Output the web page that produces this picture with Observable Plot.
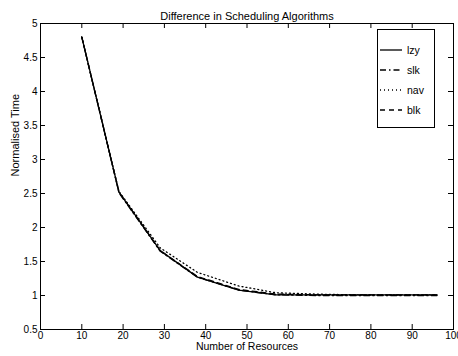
<!DOCTYPE html>
<html>
<head>
<meta charset="utf-8">
<script src="https://cdn.jsdelivr.net/npm/d3@7"></script>
<script src="https://cdn.jsdelivr.net/npm/@observablehq/plot@0.6"></script>
<style>
  body { margin: 0; background: white; }
  #wrap { position: relative; width: 458px; height: 356px; font-family: "Liberation Sans", Arial, sans-serif; }
  #legend { position: absolute; left: 377px; top: 29px; width: 58px; height: 99px; border: 1px solid #000; background: #fff; box-sizing: border-box; }
  .row { position: absolute; left: 0; height: 14px; display: flex; align-items: center; font-size: 10.5px; color: #000; }
  .row svg { margin-left: 2px; }
  .row span { margin-left: 5px; }
</style>
</head>
<body>
<div id="wrap"></div>
<script>
const titleText = "Difference in Scheduling Algorithms";
const xLabel = "Number of Resources";
const yLabel = "Normalised Time";

const resources = [10, 19, 29, 38, 48, 57, 67, 76, 86, 96];
const lzy = [4.80, 2.52, 1.66, 1.27, 1.08, 1.01, 1.01, 1.01, 1.01, 1.01];
const slk = [4.80, 2.51, 1.65, 1.27, 1.08, 1.01, 1.00, 1.00, 1.00, 1.00];
const nav = [4.80, 2.53, 1.70, 1.34, 1.14, 1.04, 1.02, 1.01, 1.01, 1.01];
const blk = [4.80, 2.52, 1.66, 1.28, 1.09, 1.02, 1.01, 1.01, 1.01, 1.01];

const seriesNames = ["lzy", "slk", "nav", "blk"];
const seriesValues = {lzy, slk, nav, blk};
const dashes = {lzy: null, slk: "6,3,1.5,3", nav: "1,3", blk: "5,4"};

const xTicks = [0, 10, 20, 30, 40, 50, 60, 70, 80, 90, 100];
const yTicks = [0.5, 1, 1.5, 2, 2.5, 3, 3.5, 4, 4.5, 5];

const W = 458, H = 356, mL = 40, mR = 5, mT = 23, mB = 27;
const fw = W - mL - mR, fh = H - mT - mB, tk = 5;

const rows = [];
for (const s of seriesNames) {
  seriesValues[s].forEach((v, i) => rows.push({series: s, x: resources[i], y: v}));
}

const drawOrder = ["nav", "blk", "slk", "lzy"];
const lineMarks = drawOrder.map(s => Plot.line(rows.filter(r => r.series === s), {
  x: "x", y: "y", stroke: "#000", strokeWidth: 1.3, strokeDasharray: dashes[s]
}));

const chart = Plot.plot({
  width: W, height: H,
  marginLeft: mL, marginRight: mR, marginTop: mT, marginBottom: mB,
  style: {fontFamily: '"Liberation Sans", Arial, sans-serif', fontSize: "10px", color: "#000", background: "white"},
  x: {domain: [0, 100]},
  y: {domain: [0.5, 5]},
  marks: [
    Plot.frame({stroke: "#000", strokeWidth: 1}),
    Plot.tickY(yTicks, {y: d => d, insetRight: fw - tk, stroke: "#000"}),
    Plot.tickY(yTicks, {y: d => d, insetLeft: fw - tk, stroke: "#000"}),
    Plot.tickX(xTicks, {x: d => d, insetTop: fh - tk, stroke: "#000"}),
    Plot.tickX(xTicks, {x: d => d, insetBottom: fh - tk, stroke: "#000"}),
    Plot.axisX({ticks: xTicks, tickSize: 0, tickPadding: 2, label: null, tickFormat: d => String(d)}),
    Plot.axisY({ticks: yTicks, tickSize: 0, tickPadding: 3, label: null, tickFormat: d => String(d)}),
    ...lineMarks,
    Plot.text([titleText], {text: d => d, frameAnchor: "top", dy: -11, fontSize: 11}),
    Plot.text([xLabel], {text: d => d, frameAnchor: "bottom", dy: 20, fontSize: 10.5}),
    Plot.text([yLabel], {text: d => d, frameAnchor: "left", dx: -25, rotate: -90, fontSize: 11})
  ]
});

const wrap = document.getElementById("wrap");
wrap.appendChild(chart);

const legend = document.createElement("div");
legend.id = "legend";
seriesNames.forEach((s, i) => {
  const row = document.createElement("div");
  row.className = "row";
  row.style.top = (13 + i * 20) + "px";
  const dash = dashes[s] ? ` stroke-dasharray="${dashes[s]}"` : "";
  row.innerHTML = `<svg width="22" height="6"><line x1="0" y1="3" x2="22" y2="3" stroke="#000" stroke-width="1.3"${dash}/></svg><span>${s}</span>`;
  legend.appendChild(row);
});
wrap.appendChild(legend);
</script>
</body>
</html>
